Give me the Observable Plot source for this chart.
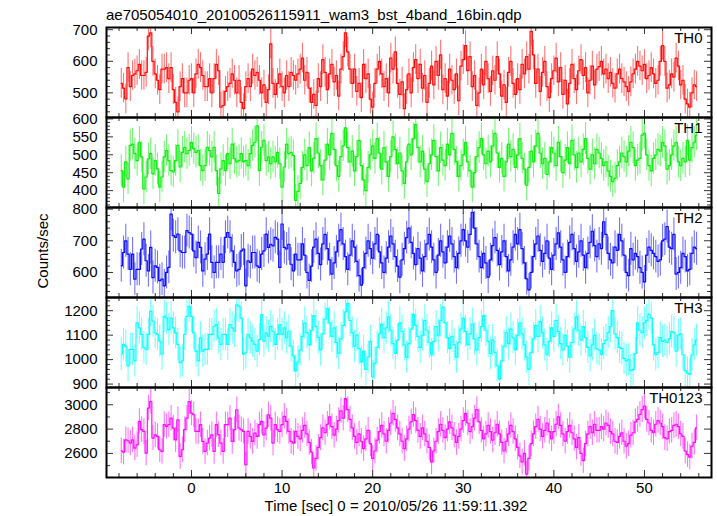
<!DOCTYPE html>
<html><head><meta charset="utf-8">
<script src="https://cdn.jsdelivr.net/npm/d3@7"></script>
<script src="https://cdn.jsdelivr.net/npm/@observablehq/plot@0.6"></script>
<style>
body{margin:0;background:#fff;}
#chart{position:relative;width:717px;height:516px;font-family:"Liberation Sans",Arial,sans-serif;color:#000;overflow:hidden;}
.title{position:absolute;left:106px;top:7px;font-size:15px;line-height:16px;white-space:nowrap;}
.ylab{position:absolute;left:42px;top:251px;transform:translate(-50%,-50%) rotate(-90deg);font-size:15px;white-space:nowrap;}
.xlab{position:absolute;left:396px;top:498px;transform:translateX(-50%);font-size:15px;line-height:16px;white-space:nowrap;}
.panel{position:absolute;left:0;}
</style></head><body><div id="chart"></div>
<script>
// ---------------- data ----------------
const titleText = "ae705054010_20100526115911_wam3_bst_4band_16bin.qdp";
const xLabelText = "Time [sec] 0 = 2010/05/26 11:59:11.392";
const yLabelText = "Counts/sec";
const tStart = -7.75;     // centre of first 0.25 s bin
const binWidth = 0.25;

const bandNames = ["TH0", "TH1", "TH2", "TH3", "TH0123"];
const bandColors = ["#ff0000", "#00ee00", "#0000ff", "#00ffff", "#ff00ff"];
const errHalf = [47, 44, 52, 66, 105];

const th0 = [530,515,481,580,520,555,560,570,590,555,555,565,680,690,600,560,540,510,575,575,580,545,580,510,470,440,520,545,500,500,540,545,500,560,590,580,555,520,520,545,500,545,590,570,455,460,505,520,530,560,540,500,540,470,450,520,545,520,575,555,565,540,500,525,470,510,655,530,495,530,560,520,500,555,520,565,555,540,560,
575,610,540,565, 515,470,495,460, 545,520,605,565, 510,560,590,535, 555,490,575,615, 690,630,575,530, 575,505,530,485, 590,545,560,480, 455,530,575,600, 560,520,545,500, 610,575,630,530, 495,535,450,510, 560,500,580,605, 545,590,515,555, 470,530,585,525, 600,555,620,510, 545,490,575,540, 510,560,475,585, 605,650,570,615, 520,555,460,500, 575,525,600,545, 505,570,540,615, 560,490,525,470, 565,600,530,495, 545,510,590,560, 615,575,695,620, 530,575,505,565, 600,520,485,545, 570,610,535,580, 495,540,465,530, 590,545,510,570, 605,555,580,500, 540,585,525,575,
583,600,560,575,545,565,530,515,560,575,545,535,520,505,535,560,575,600,585,570,590,545,555,580,560,530,540,600,650,600,515,525,560,550,610,585,525,540,480,465,455,500,525,520];

const th1 = [456,410,480,433,526,530,503,484,535,494,405,438,489,503,447,484,461,410,438,494,512,484,456,452,484,526,466,507,521,503,512,535,517,507,512,470,456,470,521,512,494,521,456,392,461,484,456,503,475,530,489,480,484,503,480,484,470,503,526,535,581,456,521,540,484,494,475,494,480,507,475,410,466,530,503,507,498,373,398,
420,465,500,470, 520,455,490,545, 505,470,430,485, 530,500,560,515, 470,440,495,525, 575,520,480,510, 455,495,540,470, 430,400,465,500, 525,490,545,505, 460,520,480,440, 495,550,515,475, 505,455,420,480, 530,500,545,585, 520,480,510,460, 425,475,500,540, 495,455,520,485, 470,530,500,560, 515,480,440,470, 500,535,480,455, 410,450,495,520, 545,500,475,510, 480,525,560,505, 465,490,440,480, 530,495,515,465, 500,545,490,460, 415,465,510,480, 525,560,505,475, 490,445,480,520, 505,470,535,495, 450,485,520,475, 540,500,465,505, 480,515,545,490, 460,500,475,515,
505,490,470,480,455,440,425,435,470,480,505,495,480,510,535,520,470,485,490,555,560,500,470,455,490,500,515,510,535,525,460,470,500,525,535,480,470,490,480,540,485,520,535,555];

const th2 = [621,663,700,658,610,658,579,610,610,674,705,637,605,679,584,621,616,574,579,558,600,616,784,716,711,721,668,663,663,732,726,721,668,647,695,679,605,642,658,721,632,600,632,632,658,632,711,726,711,668,632,605,610,668,674,558,637,632,663,663,621,616,658,668,721,679,689,684,711,705,616,753,679,674,689,626,605,658,640,
640,690,655,600, 575,620,680,705, 660,625,690,720, 675,640,595,630, 665,700,735,690, 650,610,655,700, 680,635,590,560, 615,660,700,675, 645,690,720,665, 630,600,645,680, 715,690,650,620, 585,640,675,710, 740,695,660,625, 675,645,605,650, 690,720,680,640, 600,655,700,665, 630,680,715,690, 650,615,660,700, 735,700,680,720, 790,740,690,650, 615,660,630,585, 640,685,710,670, 625,665,700,650, 605,640,680,720, 690,735,675,630, 580,545,600,650, 690,715,670,635, 660,700,645,610, 655,690,725,680, 640,600,650,695, 720,675,635,665, 700,655,615,660, 695,730,685,650,
690,675,760,720,660,640,630,680,670,720,700,655,600,590,675,640,660,650,615,600,570,655,680,670,660,650,635,640,700,705,745,680,675,720,595,600,615,660,650,605,610,660,680,675];

const th3 = [1022,1062,1055,974,1042,1042,995,1150,1130,1103,1049,1042,1103,1197,1157,1109,1103,1076,1022,1177,1170,1123,1170,1130,1109,1062,988,995,1103,1177,1218,1177,1109,1035,995,1089,1035,1042,1042,1103,1103,1136,1143,1089,1062,1103,1103,1062,1143,1130,1116,1224,1218,1170,1022,1028,1103,1089,1076,1062,1035,1082,1184,1076,1109,1096,1136,1116,1062,1103,1143,1103,1130,1089,1116,1055,1015,954,990,
1040,1095,1150,1110, 1060,1120,1180,1135, 1090,1040,1105,1165, 1210,1150,1095,1130, 1070,1025,1085,1140, 1195,1230,1160,1110, 1055,1100,1045,990, 1035,960,1010,1075, 930,985,1050,1105, 1145,1090,1130,1175, 1120,1065,1025,1080, 1150,1115,1060,1010, 1065,1125,1185,1140, 1095,1050,1100,1160, 1120,1070,1020,1075, 1135,1100,1160,1215, 1150,1090,1045,1095, 1060,1010,1070,1125, 1170,1115,1060,1105, 1145,1085,1040,1090, 1135,1180,1120,1075, 1025,1080,1030,975, 920,995,1055,1110, 1065,1125,1090,1040, 1100,1150,1105,1060, 1010,960,1030,1085, 1140,1095,1155,1110, 1060,1020,1075,1130, 1095,1160,1115,1065, 1040,1100,1055,1010, 1070,1125,1175,1120, 1080,1135,1090,1050, 1015,1060,1100,1045,
1040,1020,1065,1080,1110,1135,1200,1105,1090,1050,1045,1005,995,1000,955,960,1025,1150,1120,1110,1150,1160,1185,1170,1060,1020,1030,1090,1075,1080,1070,1085,1115,1110,1035,1100,1105,1020,955,945,940,1020,1060,1080];

const th0123 = [2622,2611,2712,2704,2685,2712,2644,2671,2863,2795,2781,2603,2973,3027,2726,2753,2740,2630,2616,2836,2822,2836,2890,2808,2712,2877,2575,2630,2795,2890,3027,2932,2918,2781,2781,2836,2699,2616,2685,2726,2753,2616,2836,2753,2685,2616,2836,2836,2890,2699,2795,2959,2808,2795,2781,2507,2781,2740,2699,2767,2740,2836,2863,2753,2808,2918,2890,2685,2836,2795,2781,2836,2904,2863,2781,2699,2685,2781,2740,
2720,2790,2830,2760, 2690,2610,2480,2560, 2650,2730,2810,2770, 2840,2900,2820,2750, 2800,2870,2950,2890, 3050,2960,2880,2810, 2740,2690,2760,2700, 2640,2720,2790,2680, 2560,2620,2710,2780, 2830,2760,2700,2790, 2850,2930,2880,2810, 2760,2700,2640,2720, 2800,2860,2920,2870, 2790,2740,2810,2760, 2700,2650,2530,2620, 2700,2780,2840,2790, 2730,2800,2860,2810, 2750,2690,2740,2800, 2870,2930,2850,2780, 2820,2890,2960,2860, 2790,2720,2760,2830, 2780,2710,2770,2840, 2760,2690,2620,2700, 2760,2830,2780,2720, 2650,2580,2530,2600, 2430,2560,2680,2760, 2820,2880,2800,2740, 2790,2850,2780,2720, 2780,2840,2900,2830, 2760,2700,2780,2830, 2770,2720,2650,2730, 2600,2540,2680,2760, 2820,2770,2840,2790,
2790,2820,2800,2850,2830,2780,2760,2700,2690,2740,2770,2700,2660,2680,2750,2770,2860,2880,2920,2960,2990,2880,2850,2790,2770,2840,2870,2850,2820,2730,2720,2780,2790,2830,2840,2820,2760,2740,2620,2590,2570,2660,2690,2810];

// y-axis domains and ticks
const yDomains = [[422, 707], [353, 604], [521, 805], [886, 1254], [2402, 3142]];
const yMajor = [[500, 600, 700], [400, 450, 500, 550, 600], [600, 700, 800], [900, 1000, 1100, 1200], [2600, 2800, 3000]];
const yMinor = [
  [440, 460, 480, 520, 540, 560, 580, 620, 640, 660, 680],
  [360, 370, 380, 390, 410, 420, 430, 440, 460, 470, 480, 490, 510, 520, 530, 540, 560, 570, 580, 590],
  [540, 560, 580, 620, 640, 660, 680, 720, 740, 760, 780],
  [920, 940, 960, 980, 1020, 1040, 1060, 1080, 1120, 1140, 1160, 1180, 1220, 1240],
  [2500, 2700, 2900, 3100]
];
const xDomain = [-9.38, 57.4];
const xMajor = [0, 10, 20, 30, 40, 50];
const xMinor = [-8, -6, -4, -2, 2, 4, 6, 8, 12, 14, 16, 18, 22, 24, 26, 28, 32, 34, 36, 38, 42, 44, 46, 48, 52, 54, 56];

const seriesValues = [th0, th1, th2, th3, th0123];

// ---------------- drawing ----------------
const W = 717, ML = 106, MR = 6, PH = 90, TOP = 27;
const plotW = W - ML - MR;
const chart = document.getElementById("chart");
const font = '"Liberation Sans", Arial, sans-serif';
const plain = d => String(d);

const title = document.createElement("div");
title.className = "title"; title.textContent = titleText; chart.appendChild(title);

seriesValues.forEach((vals, i) => {
  const e = errHalf[i];
  const data = vals.map((v, k) => ({t: tStart + k * binWidth, v, lo: v - e, hi: v + e}));
  const last = i === seriesValues.length - 1;
  const color = bandColors[i];
  const tick = {stroke: "#333", strokeWidth: 1};
  const marks = [
    Plot.ruleX(data, {x: "t", y1: "lo", y2: "hi", stroke: color, strokeOpacity: 0.55, strokeWidth: 1.1, clip: true}),
    Plot.line(data, {x: "t", y: "v", curve: "step", stroke: color, strokeOpacity: 0.95, strokeWidth: 1.2, clip: true}),
    Plot.ruleY(yMajor[i], {...tick, insetRight: plotW - 7}),
    Plot.ruleY(yMajor[i], {...tick, insetLeft: plotW - 7}),
    Plot.ruleY(yMinor[i], {...tick, insetRight: plotW - 4}),
    Plot.ruleY(yMinor[i], {...tick, insetLeft: plotW - 4}),
    Plot.ruleX(xMajor, {...tick, insetBottom: PH - 7}),
    Plot.ruleX(xMajor, {...tick, insetTop: PH - 7}),
    Plot.ruleX(xMinor, {...tick, insetBottom: PH - 4}),
    Plot.ruleX(xMinor, {...tick, insetTop: PH - 4}),
    Plot.axisY(yMajor[i], {anchor: "left", tickSize: 0, tickPadding: 9, fontSize: 15, label: null, tickFormat: plain}),
    Plot.text([bandNames[i]], {frameAnchor: "top-right", dx: -9, dy: 5, lineAnchor: "top", fontSize: 15, fill: "#000"}),
    Plot.frame({stroke: "#000", strokeWidth: 2})
  ];
  if (last) marks.push(Plot.text(xMajor, {x: d => d, text: plain, frameAnchor: "bottom", dy: 11, lineAnchor: "middle", fontSize: 15, fill: "#000"}));
  const svg = Plot.plot({
    width: W,
    height: PH + (last ? 40 : 0),
    marginLeft: ML, marginRight: MR, marginTop: 0, marginBottom: last ? 40 : 0,
    x: {domain: xDomain, axis: null},
    y: {domain: yDomains[i], axis: null},
    style: {background: "transparent", overflow: "visible", fontFamily: font, fontSize: "15px", color: "#000"},
    marks
  });
  const wrap = document.createElement("div");
  wrap.className = "panel";
  wrap.style.top = (TOP + PH * i) + "px";
  wrap.appendChild(svg);
  chart.appendChild(wrap);
});

const yl = document.createElement("div");
yl.className = "ylab"; yl.textContent = yLabelText; chart.appendChild(yl);
const xl = document.createElement("div");
xl.className = "xlab"; xl.textContent = xLabelText; chart.appendChild(xl);
</script>
</body></html>
